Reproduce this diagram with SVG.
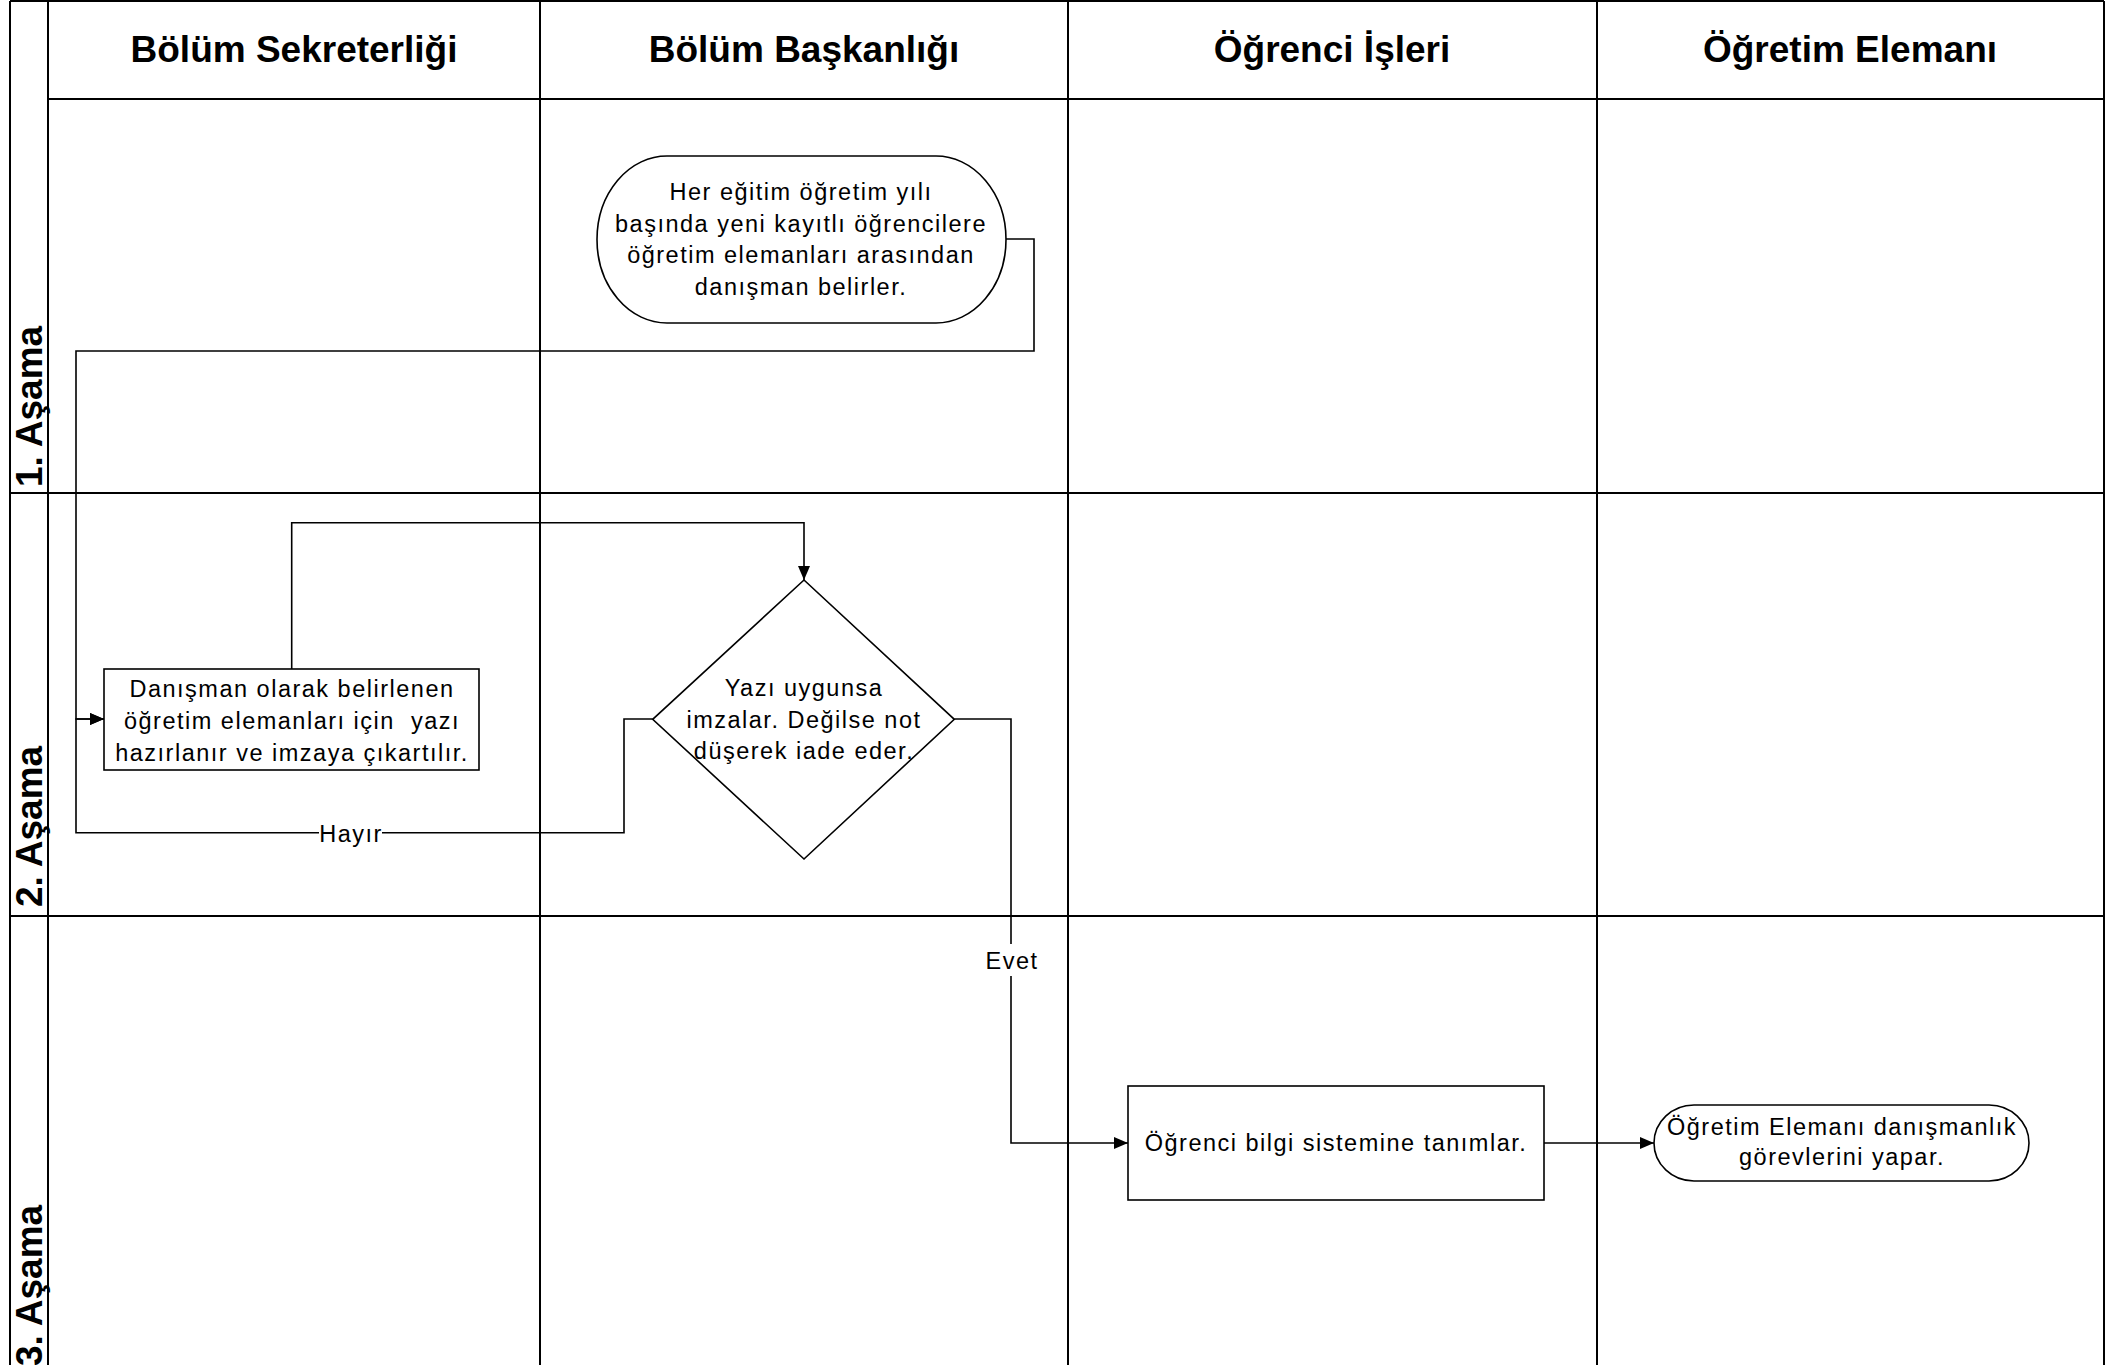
<svg xmlns="http://www.w3.org/2000/svg" width="2116" height="1365" viewBox="0 0 2116 1365">
<style>
.grid{stroke:#000;stroke-width:2;fill:none}
.shape{fill:#fff;stroke:#000;stroke-width:1.6}
.conn{fill:none;stroke:#000;stroke-width:1.6}
.hdr{font-family:"Liberation Sans",Arial,sans-serif;font-size:37px;font-weight:bold;fill:#000;text-anchor:middle}
.phase{font-family:"Liberation Sans",Arial,sans-serif;font-size:37px;font-weight:bold;fill:#000;text-anchor:start}
.txt{font-family:"Liberation Sans",Arial,sans-serif;font-size:23.5px;letter-spacing:1.5px;fill:#000;text-anchor:middle}
.lblbg{fill:#fff;stroke:none}
</style>
<defs>
<marker id="arrow" markerUnits="userSpaceOnUse" markerWidth="16" markerHeight="14" refX="14" refY="6" orient="auto">
<path d="M0,0 L14,6 L0,12 Z" fill="#000"/>
</marker>
</defs>
<rect x="0" y="0" width="2116" height="1365" fill="#fff"/>
<g id="swimlanes">
<line class="grid" x1="10" y1="1" x2="2104" y2="1"/>
<line class="grid" x1="10" y1="1" x2="10" y2="1365"/>
<line class="grid" x1="48" y1="1" x2="48" y2="1365"/>
<line class="grid" x1="540" y1="1" x2="540" y2="1365"/>
<line class="grid" x1="1068" y1="1" x2="1068" y2="1365"/>
<line class="grid" x1="1597" y1="1" x2="1597" y2="1365"/>
<line class="grid" x1="2104" y1="1" x2="2104" y2="1365"/>
<line class="grid" x1="48" y1="99" x2="2104" y2="99"/>
<line class="grid" x1="10" y1="493" x2="2104" y2="493"/>
<line class="grid" x1="10" y1="916" x2="2104" y2="916"/>
<text class="hdr" x="294" y="62">Bölüm Sekreterliği</text>
<text class="hdr" x="804" y="62">Bölüm Başkanlığı</text>
<text class="hdr" x="1332" y="62">Öğrenci İşleri</text>
<text class="hdr" x="1850" y="62">Öğretim Elemanı</text>
<text class="phase" transform="translate(42,487) rotate(-90)">1. Aşama</text>
<text class="phase" transform="translate(42,907) rotate(-90)">2. Aşama</text>
<text class="phase" transform="translate(42,1366) rotate(-90)">3. Aşama</text>
</g>
<g id="connectors">
<path class="conn" d="M1006,239 H1034 V351 H76 V719 H104" marker-end="url(#arrow)"/>
<path class="conn" d="M652.7,719 H624 V832.7 H76 V719 H104" marker-end="url(#arrow)"/>
<path class="conn" d="M291.7,669 V522.7 H804 V580" marker-end="url(#arrow)"/>
<path class="conn" d="M954.3,719 H1011 V1143 H1128" marker-end="url(#arrow)"/>
<path class="conn" d="M1544,1143 H1654" marker-end="url(#arrow)"/>
<g id="label-hayir">
<rect class="lblbg" x="319" y="822" width="63" height="24"/>
<text class="txt" x="351" y="842">Hayır</text>
</g>
<g id="label-evet">
<rect class="lblbg" x="985" y="944" width="54" height="32"/>
<text class="txt" x="1012" y="969">Evet</text>
</g>
</g>
<g id="node-start">
<rect class="shape" x="597" y="156" width="409" height="167" rx="70" ry="83.5"/>
<text class="txt" x="801" y="200">Her eğitim öğretim yılı</text>
<text class="txt" x="801" y="232">başında yeni kayıtlı öğrencilere</text>
<text class="txt" x="801" y="263">öğretim elemanları arasından</text>
<text class="txt" x="801" y="295">danışman belirler.</text>
</g>
<g id="node-yazi">
<rect class="shape" x="104" y="669" width="375" height="101"/>
<text class="txt" x="292" y="697">Danışman olarak belirlenen</text>
<text class="txt" x="292" y="729" xml:space="preserve">öğretim elemanları için  yazı</text>
<text class="txt" x="292" y="761">hazırlanır ve imzaya çıkartılır.</text>
</g>
<g id="node-karar">
<polygon class="shape" points="804,580 954.3,719.3 804,859 652.7,719.3"/>
<text class="txt" x="804" y="696">Yazı uygunsa</text>
<text class="txt" x="804" y="728">imzalar. Değilse not</text>
<text class="txt" x="804" y="759">düşerek iade eder.</text>
</g>
<g id="node-obs">
<rect class="shape" x="1128" y="1086" width="416" height="114"/>
<text class="txt" x="1336" y="1151">Öğrenci bilgi sistemine tanımlar.</text>
</g>
<g id="node-end">
<rect class="shape" x="1654" y="1105" width="375" height="76" rx="40" ry="38"/>
<text class="txt" x="1842" y="1135">Öğretim Elemanı danışmanlık</text>
<text class="txt" x="1842" y="1165">görevlerini yapar.</text>
</g>
</svg>
